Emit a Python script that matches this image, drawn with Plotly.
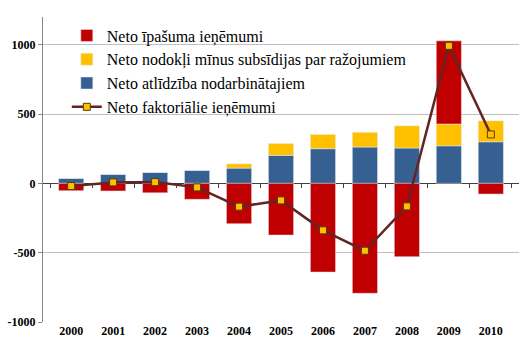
import plotly.graph_objects as go

years = ["2000", "2001", "2002", "2003", "2004", "2005", "2006", "2007", "2008", "2009", "2010"]
compensation = [36, 65, 79, 94, 110, 202, 250, 262, 255, 271, 300]
taxes = [0, 0, 0, 0, 31, 86, 103, 106, 160, 157, 151]
property_inc = [-53, -55, -68, -115, -291, -373, -640, -793, -529, 600, -77]
net_factor = [-19, 7, 9, -29, -168, -123, -339, -486, -166, 992, 353]

y_tick_values = [-1000, -500, 0, 500, 1000]
y_tick_labels = ["-1000", "-500", "0", "500", "1000"]

names = ["Neto īpašuma ieņēmumi", "Neto nodokļi mīnus subsīdijas par ražojumiem",
         "Neto atlīdzība nodarbinātajiem", "Neto faktoriālie ieņēmumi"]

serif = '"Liberation Serif"'
ymin, ymax = -1000, 1200

fig = go.Figure()
fig.add_bar(x=years, y=compensation, name=names[2], marker_color="#376092", legendrank=3)
fig.add_bar(x=years, y=taxes, name=names[1], marker_color="#FFC000", legendrank=2)
fig.add_bar(x=years, y=property_inc, name=names[0], marker_color="#C00000", legendrank=1)
fig.add_scatter(x=years, y=net_factor, name=names[3], mode="lines+markers",
                line=dict(color="#632523", width=2.5),
                marker=dict(symbol="square", size=7, color="#FFC000",
                            line=dict(color="#5A3A00", width=1)),
                legendrank=4)
# helper axis for tick marks along the zero line
fig.add_scatter(x=years, y=[None]*len(years), xaxis="x2", showlegend=False, hoverinfo="skip")

fig.update_layout(
    width=525, height=350,
    margin=dict(l=43, r=6, t=17, b=28),
    barmode="relative", bargap=0.4,
    paper_bgcolor="white", plot_bgcolor="white",
    font=dict(family=serif, color="black"),
    legend=dict(x=0.05, y=0.995, xanchor="left", yanchor="top",
                font=dict(size=16, family=serif), bgcolor="rgba(0,0,0,0)",
                tracegroupgap=0, itemwidth=30),
    xaxis=dict(showgrid=False, showline=False, ticks="",
               tickfont=dict(size=12, family=serif, weight="bold")),
    xaxis2=dict(overlaying="x", anchor="free", position=(0 - ymin) / (ymax - ymin),
                matches="x", showticklabels=False, ticks="outside", ticklen=4,
                tickson="boundaries", tickcolor="#404040", showline=False, showgrid=False),
    yaxis=dict(range=[ymin, ymax], tickvals=y_tick_values, ticktext=y_tick_labels,
               showgrid=True, gridcolor="#C0C0C0", gridwidth=1,
               zeroline=True, zerolinecolor="#404040", zerolinewidth=1,
               showline=True, linecolor="#868686", linewidth=1,
               ticks="outside", ticklen=4, tickcolor="#868686",
               tickfont=dict(size=12, family=serif, weight="bold")),
)

fig.write_html("out.html")
